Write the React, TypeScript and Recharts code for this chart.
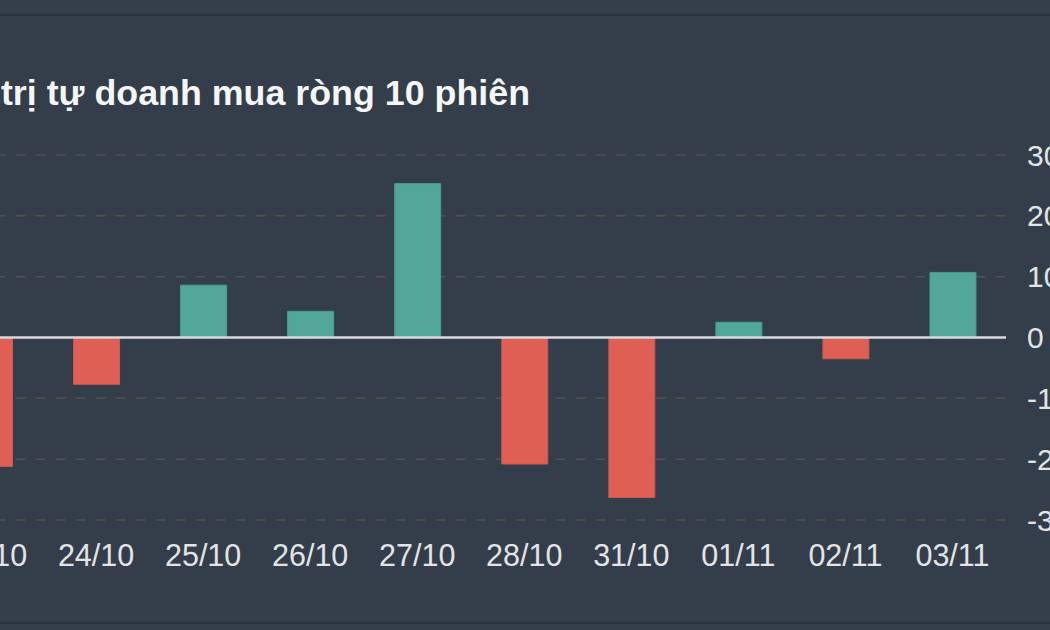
import { BarChart, Bar, Cell, XAxis, YAxis, CartesianGrid, ReferenceLine } from "recharts";

const sessions = ["23/10", "24/10", "25/10", "26/10", "27/10", "28/10", "31/10", "01/11", "02/11", "03/11"];
const netBuy = [-212, -77, 86, 43, 253, -208, -263, 25, -35, 107];
const yTicks = [-300, -200, -100, 0, 100, 200, 300];

const UP = "#52a79a";
const DOWN = "#e05f55";
const BG = "#333e4a";

const data = sessions.map((s, i) => ({ session: s, value: netBuy[i] }));

const font = "Liberation Sans, Arial, sans-serif";
const xTick = { fill: "#e2e4e6", fontSize: 30.5, fontFamily: font };
const yTick = { fill: "#e2e4e6", fontSize: 30, fontFamily: font, textAnchor: "start" };

export default function App() {
  return (
    <div style={{ position: "fixed", left: 0, top: 0, width: 1050, height: 630, overflow: "hidden", background: BG }}>
      <div style={{ position: "absolute", left: 0, right: 0, top: 14, height: 2, background: "#2b343e" }} />
      <div style={{ position: "absolute", left: 0, right: 0, top: 622, height: 2, background: "#2b343e" }} />
      <div
        style={{
          position: "absolute", right: 520, top: 73, whiteSpace: "nowrap",
          fontFamily: font, fontWeight: "bold", fontSize: 35.8,
          color: "#f4f5f6", lineHeight: "40px",
        }}
      >
        Giá trị tự doanh mua ròng 10 phiên
      </div>
      <div style={{ position: "absolute", left: -150, top: 0 }}>
        <BarChart width={1300} height={630} data={data} margin={{ top: 155, right: 0, bottom: 50, left: 85.5 }}>
          <CartesianGrid vertical={false} stroke="#57524a" strokeDasharray="10 10" strokeWidth={1.5} />
          <XAxis dataKey="session" tick={xTick} tickLine={false} axisLine={false} tickSize={0} tickMargin={24} height={60} interval={0} />
          <YAxis orientation="right" domain={[-300, 300]} ticks={yTicks} tick={yTick}
            tickLine={false} axisLine={false} tickSize={0} tickMargin={21} width={144} />
          <Bar dataKey="value" barSize={46} isAnimationActive={false} strokeWidth={1}>
            {data.map((d, i) => (
              <Cell key={i} fill={d.value >= 0 ? UP : DOWN} stroke={d.value >= 0 ? "#4a9b8f" : "#c95a51"} />
            ))}
          </Bar>
          <ReferenceLine y={0} stroke="#d8dadc" strokeWidth={2.5} />
        </BarChart>
      </div>
    </div>
  );
}
